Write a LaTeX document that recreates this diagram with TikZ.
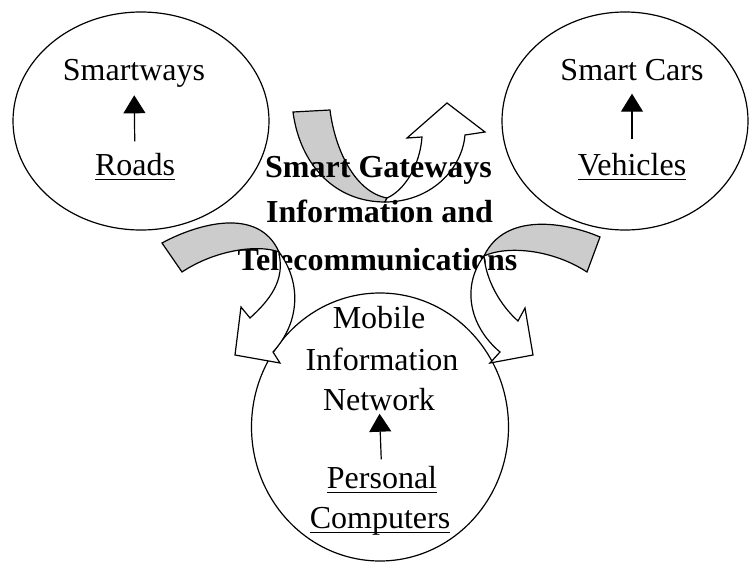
\documentclass[tikz,border=0pt]{standalone}
\usepackage{fontspec}
\setmainfont{Liberation Serif}
\usetikzlibrary{shapes.geometric,arrows.meta}
\newcommand{\wordline}[1]{\setbox0\hbox{#1}\rlap{\rule[-2.6pt]{\wd0}{0.7pt}}\box0}
\tikzset{
  blob/.style={ellipse,draw,line width=0.6pt,inner sep=0pt},
  word/.style={inner sep=0pt,anchor=base,font=\fontsize{16}{19}\selectfont},
  bold/.style={word,font=\fontsize{16}{19}\selectfont\bfseries},
  lift/.style={line width=0.6pt,-{Triangle[width=11pt,length=9pt]}},
  band/.style={draw,line width=0.6pt,fill=black!20},
  face/.style={draw,line width=0.6pt,fill=white}
}
\begin{document}
\begin{tikzpicture}[x=0.5pt,y=-0.5pt]
\useasboundingbox (0,0) rectangle (750,562);
\node[blob,minimum width=128pt,minimum height=109pt] (ways) at (141,121) {};
\node[blob,minimum width=123pt,minimum height=109pt] (cars) at (625,121) {};
\node[blob,minimum width=128.5pt,minimum height=134pt] (net) at (380,427) {};
\node[word] (smartways) at (134,80) {Smartways};
\node[word] (roads) at (135,175) {\wordline{Roads}};
\draw[lift,shorten <=5.5pt,shorten >=4pt] (roads) -- (smartways);
\node[word] (smartcars) at (632,80) {Smart Cars};
\node[word] (vehicles) at (632,175) {\wordline{Vehicles}};
\draw[lift,shorten <=6.5pt,shorten >=6.5pt] (vehicles) -- (smartcars);
\node[word] (mobile) at (379,328) {Mobile};
\node[word] (information) at (382,370) {Information};
\node[word] (network) at (379,410) {Network};
\node[word] (personal) at (382,488) {\wordline{Personal}};
\node[word] (computers) at (380,528) {\wordline{Computers}};
\draw[lift,shorten <=3pt,shorten >=1.5pt] (personal) -- (network);
% gateway arrow on top
\path[band] (293,112) -- (330,110) .. controls (335,150) and (355,192) .. (387,198)
  -- (385,202) .. controls (335,202) and (300,165) .. (293,112) -- cycle;
\path[face] (385,202) .. controls (430,202) and (462,170) .. (465,135) -- (485,132)
  -- (447,103) -- (407,138) -- (422,137) .. controls (420,165) and (405,190) .. (387,198) -- cycle;
\node[bold] (gateways) at (378.5,177) {Smart Gateways};
\node[bold] (infoand) at (379.5,222) {Information and};
\node[bold] (telecom) at (377.5,270) {Telecommunications};
% side arrows
\path[band] (162,243) .. controls (195,225) and (258,205) .. (279,252)
  .. controls (258,244) and (215,250) .. (182,272) -- cycle;
\path[face] (279,252) .. controls (300,280) and (302,320) .. (273,352) -- (280,363)
  -- (235,355) -- (241,307) -- (250,318) .. controls (270,300) and (285,280) .. (279,254) -- cycle;
\path[band] (600,237) .. controls (565,222) and (505,212) .. (484,256)
  .. controls (505,246) and (550,248) .. (587,272) -- cycle;
\path[face] (484,256) .. controls (462,285) and (468,325) .. (500,352) -- (490,363)
  -- (533,355) -- (525,308) -- (518,321) .. controls (500,305) and (486,280) .. (484,256) -- cycle;
\end{tikzpicture}
\end{document}
